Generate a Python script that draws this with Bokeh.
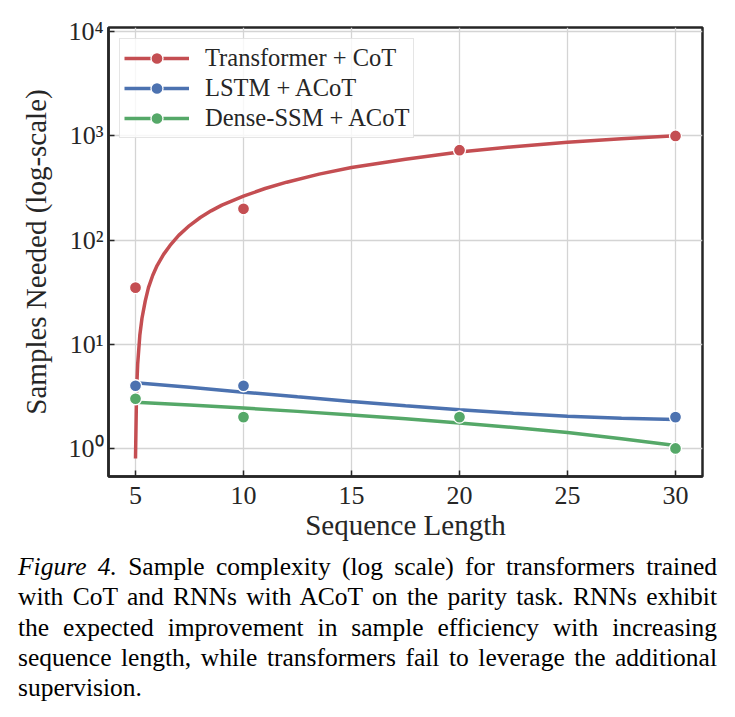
from bokeh.plotting import figure
from bokeh.models import Range1d, FixedTicker, Div
from bokeh.layouts import column
from bokeh.embed import file_html
from bokeh.resources import INLINE

# ---- measured sample complexity -------------------------------------------
seq_len = [5, 10, 20, 30]
transformer_cot = [35, 200, 730, 1000]
lstm_acot = [4, 4, 2, 2]
dense_ssm_acot = [3, 2, 2, 1]

# ---- fitted trend curves (sampled along sequence length) ------------------
fit_x_transformer = [5.0, 5.05, 5.1, 5.2, 5.3, 5.45, 5.6, 5.8, 6.0, 6.3, 6.6,
                     7.0, 7.5, 8.0, 8.5, 9.0, 10, 11, 12, 13.5, 15, 17.5, 20,
                     22.5, 25, 27.5, 30]
fit_y_transformer = [0.8, 3.6, 6.4, 12.2, 17.8, 26, 35, 46, 57, 73, 89,
                     111, 138, 165, 191, 217, 264, 313, 360, 430, 498, 598, 700,
                     790, 872, 942, 1005]
fit_x_rnn = [5, 7.5, 10, 12.5, 15, 17.5, 20, 22.5, 25, 27.5, 30]
fit_y_lstm = [4.28, 3.86, 3.47, 3.13, 2.83, 2.57, 2.35, 2.18, 2.04, 1.95, 1.90]
fit_y_dense = [2.78, 2.61, 2.44, 2.27, 2.10, 1.93, 1.76, 1.59, 1.42, 1.24, 1.07]

series_names = ["Transformer + CoT", "LSTM + ACoT", "Dense-SSM + ACoT"]
series_colors = ["#C44E52", "#4C72B0", "#55A868"]

x_ticks = [5, 10, 15, 20, 25, 30]
y_ticks = [1, 10, 100, 1000, 10000]
y_tick_labels = ["10\u2070", "10\u00b9", "10\u00b2", "10\u00b3", "10\u2074"]

x_label = "Sequence Length"
y_label = "Samples Needed (log-scale)"

caption_lines = [
    "<i>Figure 4.</i> Sample complexity (log scale) for transformers trained",
    "with CoT and RNNs with ACoT on the parity task. RNNs exhibit",
    "the expected improvement in sample efficiency with increasing",
    "sequence length, while transformers fail to leverage the additional",
    "supervision.",
]

SERIF = "Liberation Serif"
INK = "#262626"

W = 735
CHART_H = 550
CAPTION_H = 717 - CHART_H

p = figure(width=W, height=CHART_H,
           x_range=Range1d(3.75, 31.25), y_range=Range1d(0.538, 11000),
           y_axis_type="log", output_backend="svg", toolbar_location=None,
           min_border_left=108, min_border_right=33,
           min_border_top=27, min_border_bottom=74)

p.background_fill_color = "white"
p.border_fill_color = "white"
p.outline_line_color = INK
p.outline_line_width = 2.5

xt = FixedTicker(ticks=x_ticks)
yt = FixedTicker(ticks=y_ticks)
p.xaxis.ticker = xt
p.yaxis.ticker = yt
p.xgrid.ticker = xt
p.ygrid.ticker = yt
p.yaxis.major_label_overrides = dict(zip(y_ticks, y_tick_labels))

for g in (p.xgrid, p.ygrid):
    g.grid_line_color = "#d4d4d4"
    g.grid_line_width = 1.3

for ax in (p.xaxis, p.yaxis):
    ax.axis_line_color = INK
    ax.axis_line_width = 2.5
    ax.major_tick_in = 6
    ax.major_tick_out = 0
    ax.minor_tick_in = 0
    ax.minor_tick_out = 0
    ax.major_tick_line_color = INK
    ax.major_tick_line_width = 1.5
    ax.major_label_text_font = SERIF
    ax.major_label_text_font_size = "26px"
    ax.major_label_text_color = INK
    ax.axis_label_text_font = SERIF
    ax.axis_label_text_font_size = "29px"
    ax.axis_label_text_font_style = "normal"
    ax.axis_label_text_color = INK

p.xaxis.axis_label = x_label
p.yaxis.axis_label = y_label
p.xaxis.major_label_standoff = 10
p.yaxis.major_label_standoff = 5
p.xaxis.axis_label_standoff = 2
p.yaxis.axis_label_standoff = 13

fits = [(fit_x_transformer, fit_y_transformer),
        (fit_x_rnn, fit_y_lstm),
        (fit_x_rnn, fit_y_dense)]
measured = [transformer_cot, lstm_acot, dense_ssm_acot]

for name, color, (fx, fy), ys in zip(series_names, series_colors, fits, measured):
    p.line(fx, fy, line_color=color, line_width=3.5, legend_label=name)
    p.scatter(seq_len, ys, size=12, fill_color=color, line_color="white",
              line_width=1.3, legend_label=name)

lg = p.legend[0]
lg.location = "top_left"
lg.margin = 11
lg.padding = 4
lg.spacing = 0
lg.glyph_width = 65
lg.glyph_height = 30
lg.label_height = 30
lg.label_standoff = 16
lg.label_text_font = SERIF
lg.label_text_font_size = "24.5px"
lg.label_text_color = INK
lg.border_line_color = "#cccccc"
lg.border_line_width = 1
lg.background_fill_color = "white"
lg.background_fill_alpha = 0.8

# ---- caption: every line but the last is fully justified -------------------
font_css = ("font-family:Liberation Serif,Times New Roman,serif;"
            "font-size:25.5px;line-height:30.3px;color:#000;")
line_css = font_css + "text-align:justify;text-align-last:justify;white-space:nowrap;"
last_css = font_css + "text-align:left;white-space:nowrap;"
rows = []
for i, line in enumerate(caption_lines):
    css = last_css if i == len(caption_lines) - 1 else line_css
    rows.append('<div style="%s">%s</div>' % (css, line))
caption_html = (
    '<div style="box-sizing:content-box;margin:0;padding:2px 0 0 18px;'
    'width:699px;' + font_css + '">' + "".join(rows) + "</div>"
)
caption = Div(text=caption_html, width=W, height=CAPTION_H, margin=(0, 0, 0, 0),
              styles={"font-family": "Liberation Serif", "font-size": "25.5px",
                      "color": "#000"})

layout = column(p, caption, spacing=0)
open("out.html", "w").write(file_html(layout, INLINE))
